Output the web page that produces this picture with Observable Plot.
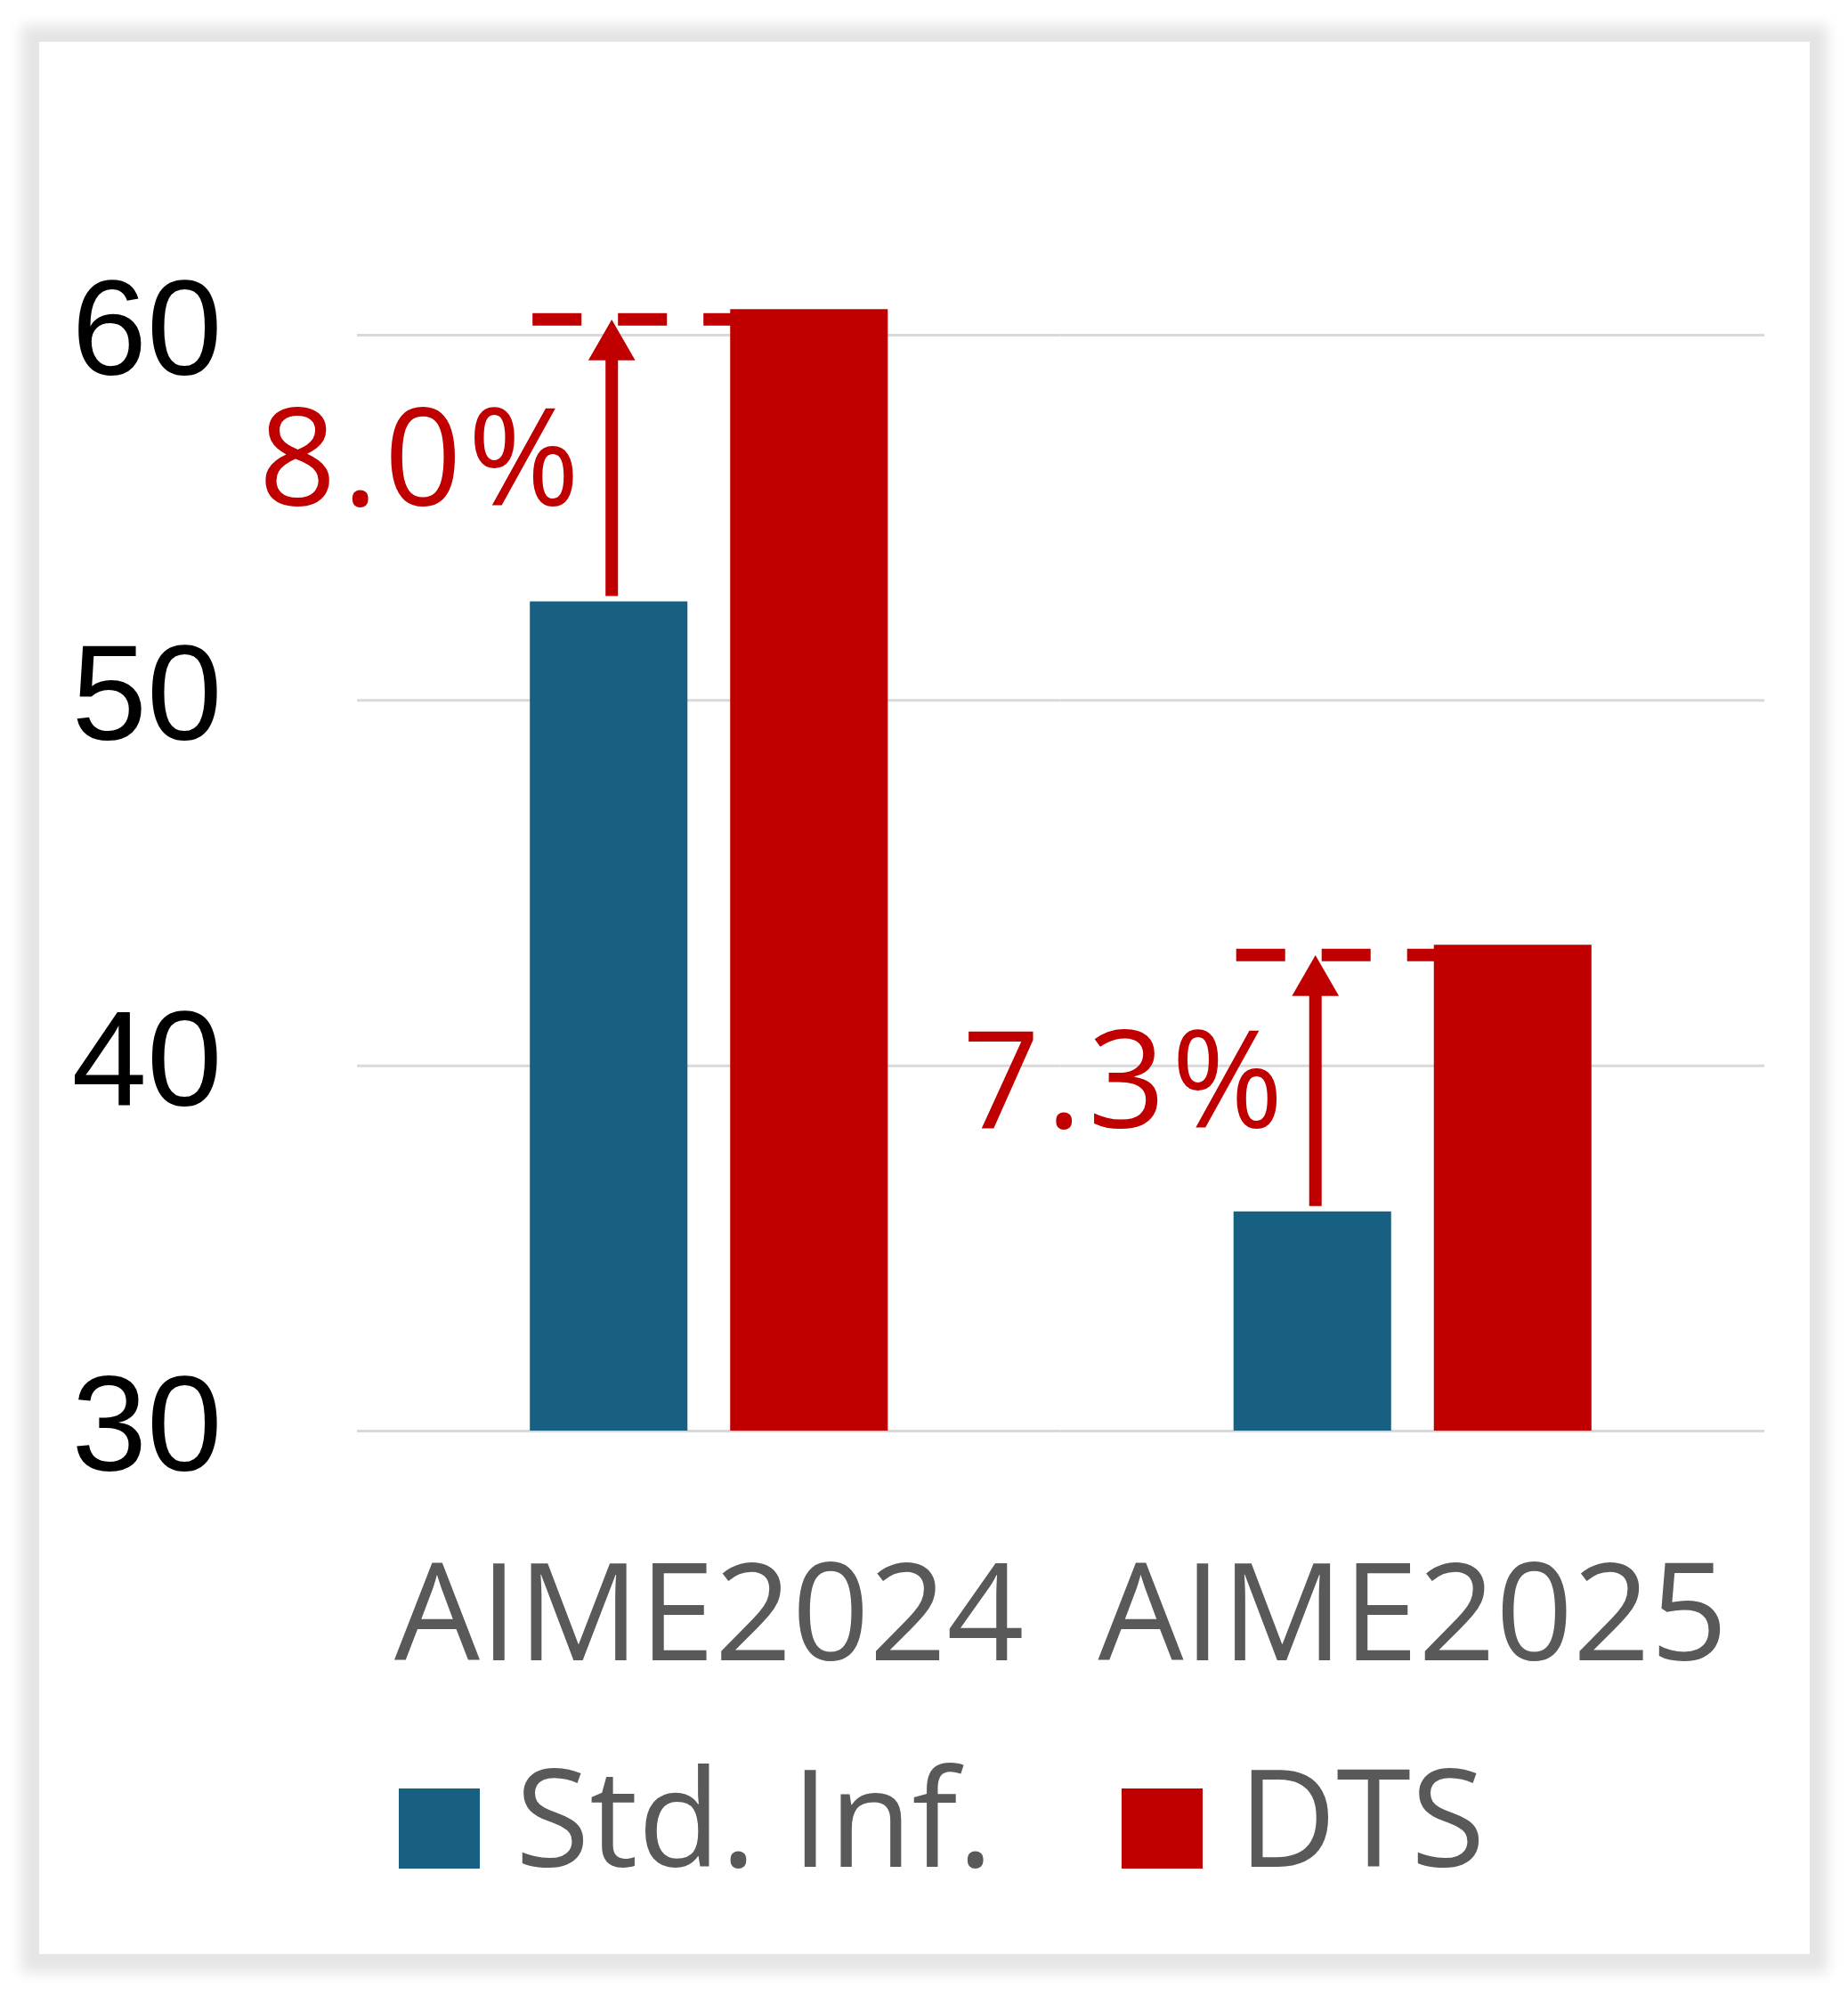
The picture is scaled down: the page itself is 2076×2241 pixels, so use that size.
<!DOCTYPE html>
<html>
<head>
<meta charset="utf-8">
<script src="https://cdn.jsdelivr.net/npm/d3@7"></script>
<script src="https://cdn.jsdelivr.net/npm/@observablehq/plot@0.6"></script>
<style>
  html, body { margin: 0; padding: 0; background: #ffffff; }
  #page { position: relative; width: 2076px; height: 2241px; overflow: hidden; background: #ffffff; }
  #frame { position: absolute; left: 44px; top: 47px; width: 1989px; height: 2148px; background: #ffffff;
           box-shadow: 0 1px 14px 20px #e5e5e5; }
  #chart { position: absolute; left: 0; top: 0; }
  #legend { position: absolute; left: 0; top: 0; width: 2076px; height: 2241px; pointer-events: none;
            font-family: "Open Sans", "Noto Sans", Arial, sans-serif; }
  .sw { position: absolute; width: 91px; height: 90px; }
  .lt { position: absolute; font-size: 152px; line-height: 152px; color: #595959; white-space: nowrap; }
</style>
</head>
<body>
<div id="page">
  <div id="frame"></div>
  <div id="chart"></div>
  <div id="legend"></div>
</div>
<script>
// ---- data ----
const categories = ["AIME2024", "AIME2025"];
const series = ["Std. Inf.", "DTS"];
const stdValues = [52.7, 36.0];
const dtsValues = [60.7, 43.3];
const yTicks = [30, 40, 50, 60];
const seriesColors = ["#176082", "#C00000"];
const accent = "#C00000";

// ---- derived tables ----
const rows = [];
categories.forEach((c, i) => {
  rows.push({category: c, series: series[0], value: stdValues[i]});
  rows.push({category: c, series: series[1], value: dtsValues[i]});
});
const ann = categories.map((c, i) => ({
  category: c,
  std: stdValues[i],
  dts: dtsValues[i],
  mid: (stdValues[i] + dtsValues[i]) / 2,
  label: (dtsValues[i] - stdValues[i]).toFixed(1) + "%"
}));

const font = "'Open Sans', 'Noto Sans', Arial, sans-serif";
const tickFont = "'Liberation Sans', Arial, sans-serif";
const base = yTicks[0];

const chart = Plot.plot({
  width: 2076,
  height: 1900,
  marginLeft: 401,
  marginRight: 94,
  marginTop: 376,
  marginBottom: 293,
  style: {background: "transparent", fontFamily: font, overflow: "visible", maxWidth: "none"},
  fx: {domain: categories, padding: 0, paddingInner: 0, paddingOuter: 0, label: null, round: false},
  x: {domain: series, paddingInner: 0.2133, paddingOuter: 0.863, axis: null, round: false},
  y: {domain: [yTicks[0], yTicks[yTicks.length - 1]], axis: null},
  color: {domain: series, range: seriesColors},
  marks: [
    Plot.gridY(yTicks, {stroke: "#d9d9d9", strokeOpacity: 1, strokeWidth: 3}),
    Plot.ruleY(ann, {
      fx: "category", y: "dts", x1: () => series[0], x2: () => series[1],
      stroke: accent, strokeWidth: 14, strokeDasharray: "55,41", dx: 3, dy: 11, insetRight: 100
    }),
    Plot.barY(rows, {fx: "category", x: "series", y1: () => base, y2: "value", fill: "series"}),
    Plot.ruleX(ann, {
      fx: "category", x: () => series[0], y1: "dts", y2: "std",
      stroke: accent, strokeWidth: 14, insetTop: 45, insetBottom: 6, dx: 3
    }),
    Plot.dot(ann, {
      fx: "category", x: () => series[0], y: "dts", symbol: "triangle", r: 19.57,
      fill: accent, stroke: "none", dx: 3, dy: 41.7
    }),
    Plot.text(ann, {
      fx: "category", x: () => series[0], y: "mid", text: "label",
      textAnchor: "end", lineAnchor: "middle", dx: -26, dy: 7,
      fontSize: 152, fill: accent, fontFamily: font
    }),
    Plot.axisY(yTicks, {
      tickSize: 0, tickPadding: 152, fontSize: 152, fill: "#000000", dy: -4,
      label: null, fontFamily: tickFont, tickFormat: d => String(d)
    }),
    Plot.axisFx({
      anchor: "bottom", tickSize: 0, tickPadding: 150, fontSize: 152, fill: "#595959",
      label: null, fontFamily: font
    })
  ]
});
// slightly wider tracking on the gain labels
const gainLabels = new Set(ann.map(d => d.label));
chart.querySelectorAll("text").forEach(t => {
  if (gainLabels.has(t.textContent)) {
    t.setAttribute("letter-spacing", "7");
    t.style.letterSpacing = "7px";
  }
});
document.getElementById("chart").appendChild(chart);

// ---- legend (HTML, below the svg area) ----
const legend = document.getElementById("legend");
series.forEach((s, i) => {
  const left = 448 + i * 812;
  const sw = document.createElement("div");
  sw.className = "sw";
  sw.style.left = left + "px";
  sw.style.top = "2009px";
  sw.style.background = seriesColors[i];
  legend.appendChild(sw);
  const t = document.createElement("div");
  t.className = "lt";
  t.style.left = (left + 91 + 40) + "px";
  t.style.top = "1963px";
  t.textContent = s;
  legend.appendChild(t);
});
</script>
</body>
</html>
